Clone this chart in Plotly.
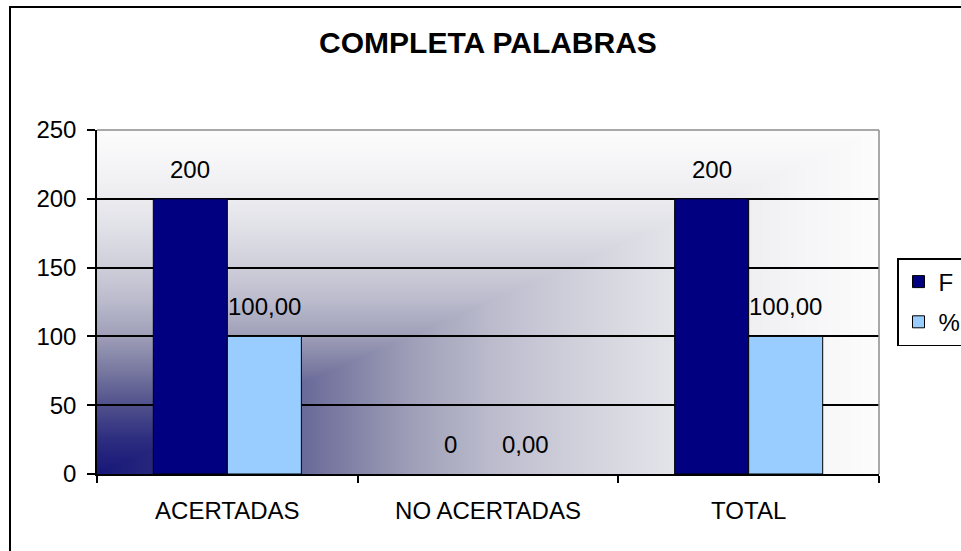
import base64
import struct
import zlib

import numpy as np
import plotly.graph_objects as go

# ---------------- data ----------------
categories = ["ACERTADAS", "NO ACERTADAS", "TOTAL"]
f_values = [200, 0, 200]
pct_values = [100.00, 0.00, 100.00]
f_labels = ["200", "0", "200"]
pct_labels = ["100,00", "0,00", "100,00"]
y_tick_values = [0, 50, 100, 150, 200, 250]
title_text = "COMPLETA PALABRAS"

# ---------------- layout constants ----------------
W, H = 961, 551
ML, MR, MT, MB = 97, 82, 130, 77
PW, PH = W - ML - MR, H - MT - MB
BARGAP = 0.432
FONT = "Liberation Sans, Arial, sans-serif"
LABEL_SIZE = 24

# ---------------- gradient background (corner gradient, navy -> white) ----------------
stops_t = [0.0, 0.1, 0.2, 0.3, 0.4, 0.5, 0.6, 0.7, 0.8, 0.9, 1.0]
stops_rgb = [(22, 22, 120), (45, 45, 128), (80, 80, 140), (120, 120, 160),
             (158, 158, 184), (186, 186, 204), (206, 206, 218), (222, 222, 230),
             (236, 236, 240), (245, 245, 247), (252, 252, 252)]


def gradient_png_uri(w, h):
    u = (np.arange(w) + 0.5) / w
    v = 1.0 - (np.arange(h) + 0.5) / h
    uu, vv = np.meshgrid(u, v)
    t = np.maximum(uu, vv)
    img = np.zeros((h, w, 3), dtype=np.uint8)
    for c in range(3):
        img[:, :, c] = np.interp(t, stops_t, [s[c] for s in stops_rgb]).round().astype(np.uint8)
    raw = b"".join(b"\x00" + img[r].tobytes() for r in range(h))

    def chunk(tag, data):
        return (struct.pack(">I", len(data)) + tag + data
                + struct.pack(">I", zlib.crc32(tag + data) & 0xFFFFFFFF))

    png = (b"\x89PNG\r\n\x1a\n"
           + chunk(b"IHDR", struct.pack(">IIBBBBB", w, h, 8, 2, 0, 0, 0))
           + chunk(b"IDAT", zlib.compress(raw, 9))
           + chunk(b"IEND", b""))
    return "data:image/png;base64," + base64.b64encode(png).decode("ascii")


bg_uri = gradient_png_uri(PW, PH)

# ---------------- figure ----------------
fig = go.Figure()
fig.add_trace(go.Bar(
    name="F", x=categories, y=f_values, legendgroup="F",
    marker=dict(color="#000080",
                line=dict(color="black", width=[1 if v else 0 for v in f_values])),
    hoverinfo="skip",
))
fig.add_trace(go.Bar(
    name="%", x=categories, y=pct_values, legendgroup="P",
    marker=dict(color="#99CCFF",
                line=dict(color="black", width=[1 if v else 0 for v in pct_values])),
    hoverinfo="skip",
))

# data labels (offset to each bar's centre)
bar_px = PW / len(categories) * (1 - BARGAP) / 2
annotations = []
for vals, labels, sign in ((f_values, f_labels, -1), (pct_values, pct_labels, 1)):
    for cat, val, lab in zip(categories, vals, labels):
        annotations.append(dict(
            x=cat, y=val, xref="x", yref="y", text=lab, showarrow=False,
            xanchor="center", yanchor="bottom", xshift=sign * bar_px / 2, yshift=14,
            font=dict(family=FONT, size=LABEL_SIZE, color="black"),
        ))

px_to_paper_x = lambda px: (px - ML) / PW
px_to_paper_y = lambda py: (H - MB - py) / PH

shapes = [
    # outer chart border (left/top visible)
    dict(type="rect", xref="paper", yref="paper",
         x0=px_to_paper_x(10), x1=px_to_paper_x(W + 20),
         y0=px_to_paper_y(H + 20), y1=px_to_paper_y(7),
         line=dict(color="black", width=2), layer="above"),
    # plot-area top & right edges (grey)
    dict(type="line", xref="paper", yref="paper", x0=0, x1=1, y0=1, y1=1,
         line=dict(color="#8c8c8c", width=1.5), layer="above"),
    dict(type="line", xref="paper", yref="paper", x0=1, x1=1, y0=0, y1=1,
         line=dict(color="#8c8c8c", width=1.5), layer="above"),
]

fig.update_layout(
    width=W, height=H,
    margin=dict(l=ML, r=MR, t=MT, b=MB, autoexpand=False),
    paper_bgcolor="white",
    plot_bgcolor="rgba(0,0,0,0)",
    barmode="group", bargap=BARGAP, bargroupgap=0,
    font=dict(family=FONT, size=LABEL_SIZE, color="black"),
    title=dict(text=title_text, x=(ML + PW / 2) / W, xanchor="center",
               y=1 - 42 / H, yanchor="middle", yref="container",
               font=dict(family=FONT, size=30, color="black", weight="bold")),
    images=[dict(source=bg_uri, xref="paper", yref="paper", x=0, y=1,
                 sizex=1, sizey=1, sizing="stretch", xanchor="left", yanchor="top",
                 layer="below")],
    xaxis=dict(type="category", showline=True, linecolor="black", linewidth=1.5,
               ticks="outside", tickson="boundaries", ticklen=7, tickcolor="black",
               tickwidth=1.5, showgrid=False, zeroline=False,
               tickfont=dict(family=FONT, size=LABEL_SIZE, color="black"),
               ticklabelstandoff=14),
    yaxis=dict(range=[0, 250], tickvals=y_tick_values, showline=True,
               linecolor="black", linewidth=1.5, ticks="outside", ticklen=8,
               tickcolor="black", tickwidth=1.5, showgrid=True, gridcolor="black",
               gridwidth=1.5, zeroline=False,
               tickfont=dict(family=FONT, size=LABEL_SIZE, color="black"),
               ticklabelstandoff=6),
    legend=dict(x=px_to_paper_x(897), y=px_to_paper_y(258), xanchor="left",
                yanchor="top", bgcolor="white", bordercolor="black", borderwidth=1.5,
                font=dict(family=FONT, size=LABEL_SIZE, color="black"),
                itemwidth=30, traceorder="grouped", tracegroupgap=6),
    annotations=annotations,
    shapes=shapes,
    showlegend=True,
)

fig.write_html("out.html", config={"displayModeBar": False},
               post_script="document.body.style.margin='0';document.body.style.overflow='hidden';")
